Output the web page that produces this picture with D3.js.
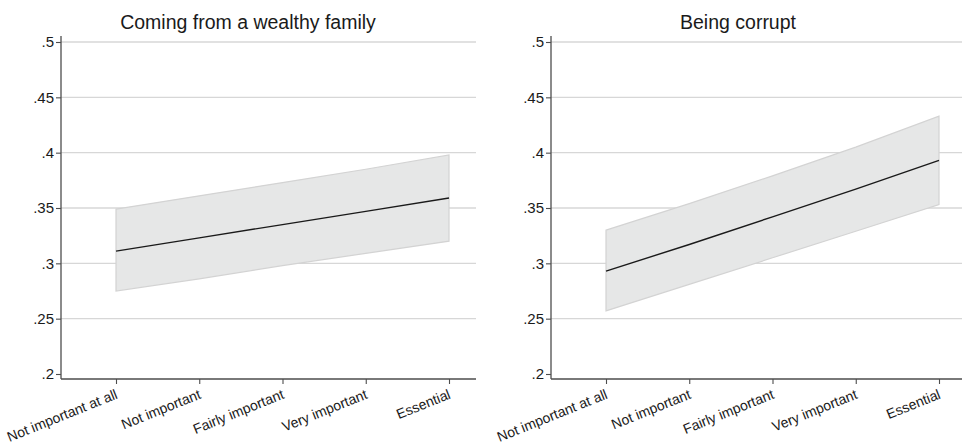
<!DOCTYPE html>
<html>
<head>
<meta charset="utf-8">
<script src="https://cdn.jsdelivr.net/npm/d3@7"></script>
<style>
  body { margin: 0; background: #fff; }
  svg { display: block; font-family: "Liberation Sans", Arial, Helvetica, sans-serif; }
</style>
</head>
<body>
<svg id="chart" width="962" height="446"></svg>
<script>
// Response categories on the x axis
const categories = ["Not important at all", "Not important", "Fairly important", "Very important", "Essential"];

// Y-axis tick values
const yTicks = [0.2, 0.25, 0.3, 0.35, 0.4, 0.45, 0.5];

// Panel titles
const titles = ["Coming from a wealthy family", "Being corrupt"];

// Predicted probability and 95% confidence bounds, panel 1
const wealthyFit   = [0.311, 0.323, 0.335, 0.347, 0.359];
const wealthyUpper = [0.349, 0.361, 0.373, 0.385, 0.398];
const wealthyLower = [0.275, 0.286, 0.298, 0.309, 0.320];

// Predicted probability and 95% confidence bounds, panel 2
const corruptFit   = [0.293, 0.317, 0.342, 0.367, 0.393];
const corruptUpper = [0.330, 0.354, 0.379, 0.405, 0.433];
const corruptLower = [0.257, 0.281, 0.305, 0.329, 0.353];

const panels = [
  { title: titles[0], fit: wealthyFit, upper: wealthyUpper, lower: wealthyLower },
  { title: titles[1], fit: corruptFit, upper: corruptUpper, lower: corruptLower }
];

const svg = d3.select("#chart");

// Shared geometry
const axisTop = 36, axisBottom = 379;
const panelOffset = 490;
const axisLeftX = 61, axisRightX = 476;
const panelWidth = 496;

const y = d3.scaleLinear().domain([0.2, 0.5]).range([374, 42]);
const x = d3.scalePoint().domain(categories).range([116, 449]);

panels.forEach((p, i) => {
  const g = svg.append("g").attr("transform", `translate(${i * panelOffset},0)`);

  // Gridlines
  g.append("g")
    .selectAll("line")
    .data(yTicks.filter(t => t > 0.2))
    .join("line")
    .attr("x1", axisLeftX).attr("x2", axisRightX + (i === 1 ? 20 : 0))
    .attr("y1", d => y(d)).attr("y2", d => y(d))
    .attr("stroke", "#d7d7d7").attr("stroke-width", 1.3);

  // Confidence band
  const rows = categories.map((c, k) => ({ c, fit: p.fit[k], lo: p.lower[k], hi: p.upper[k] }));
  const area = d3.area().x(d => x(d.c)).y0(d => y(d.lo)).y1(d => y(d.hi));
  g.append("path")
    .datum(rows)
    .attr("d", area)
    .attr("fill", "#e6e7e7")
    .attr("stroke", "#d3d3d3")
    .attr("stroke-width", 1.2);

  // Predicted line
  const line = d3.line().x(d => x(d.c)).y(d => y(d.fit));
  g.append("path")
    .datum(rows)
    .attr("d", line)
    .attr("fill", "none")
    .attr("stroke", "#1a1a1a")
    .attr("stroke-width", 1.4);

  // Y axis
  const yAxis = g.append("g")
    .attr("transform", `translate(${axisLeftX},0)`)
    .call(d3.axisLeft(y).tickValues(yTicks)
      .tickFormat(d => d3.format(".2~f")(d).replace(/^0/, ""))
      .tickSize(5).tickPadding(2));
  yAxis.select(".domain").remove();
  yAxis.append("line")
    .attr("x1", 0).attr("x2", 0)
    .attr("y1", axisTop).attr("y2", axisBottom)
    .attr("stroke", "#4d4d4d").attr("stroke-width", 1.3);
  yAxis.selectAll(".tick line").attr("stroke", "#4d4d4d").attr("stroke-width", 1.1);
  yAxis.selectAll(".tick text")
    .attr("fill", "#1a1a1a")
    .style("font-size", "15px")
    .style("font-family", "'Liberation Sans', Arial, sans-serif");

  // X axis
  const xAxis = g.append("g")
    .attr("transform", `translate(0,${axisBottom})`)
    .call(d3.axisBottom(x).tickSize(5).tickPadding(0));
  xAxis.select(".domain").remove();
  xAxis.append("line")
    .attr("x1", axisLeftX).attr("x2", axisRightX + (i === 1 ? 20 : 0))
    .attr("y1", 0).attr("y2", 0)
    .attr("stroke", "#4d4d4d").attr("stroke-width", 1.3);
  xAxis.selectAll(".tick line").attr("stroke", "#4d4d4d").attr("stroke-width", 1.1);
  xAxis.selectAll(".tick text")
    .attr("y", 0).attr("dy", 0)
    .attr("text-anchor", "end")
    .attr("transform", "translate(2,19) rotate(-22)")
    .attr("fill", "#1a1a1a")
    .style("font-size", "14px")
    .style("font-family", "'Liberation Sans', Arial, sans-serif");

  // Title, centred over the whole panel
  g.append("text")
    .attr("x", panelWidth / 2)
    .attr("y", 29)
    .attr("text-anchor", "middle")
    .attr("fill", "#1a1a1a")
    .style("font-size", "19.5px")
    .text(p.title);
});
</script>
</body>
</html>
